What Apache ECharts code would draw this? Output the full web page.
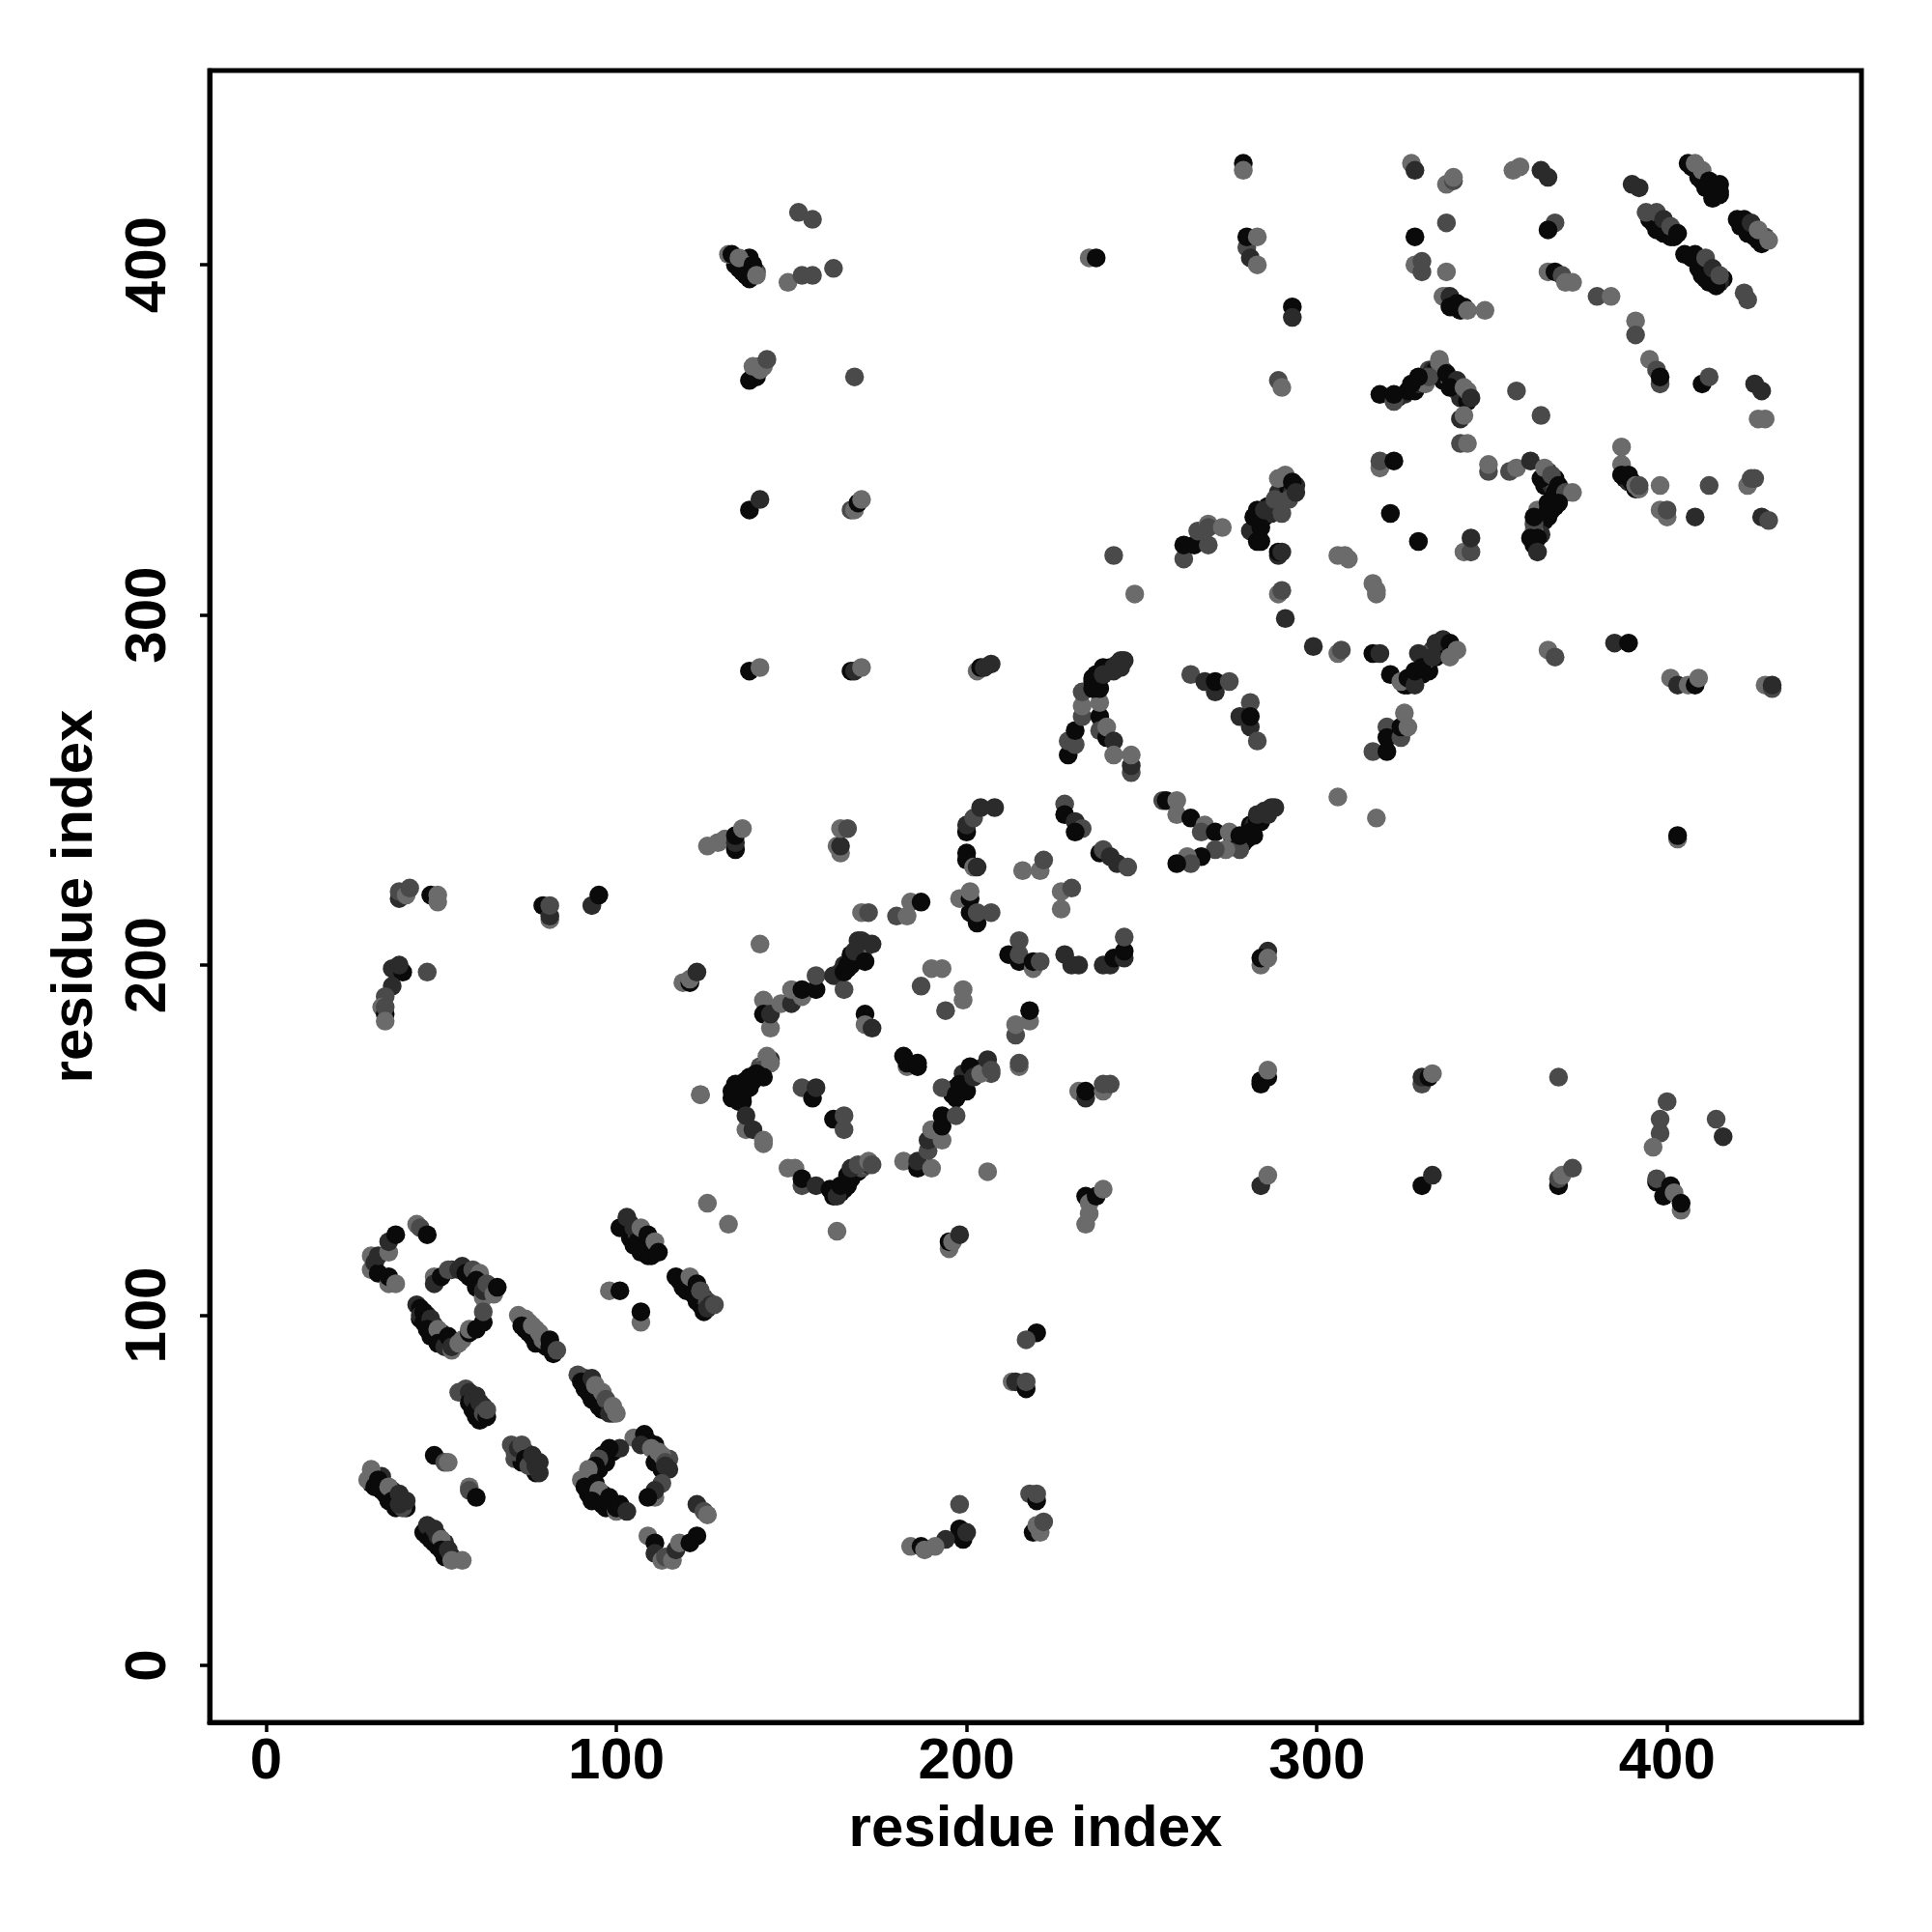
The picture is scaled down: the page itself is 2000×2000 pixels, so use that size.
<!DOCTYPE html>
<html><head><meta charset="utf-8">
<script src="https://cdn.jsdelivr.net/npm/echarts@6/dist/echarts.min.js"></script>
<style>html,body{margin:0;background:#fff}#c{width:2000px;height:2000px}</style></head>
<body><div id="c"></div>
<script>
const tickLabels=[0,100,200,300,400];
const axisTitle='residue index';
// grey tone per contact: index used as third value of every [i, j, tone]
const tones=['#0a0a0a','#2b2b2b','#4a4a4a','#6b6b6b'];
const denseLow=[[44,99,0],[46,100,1],[46,97,0],[48,97,1],[48,94,0],[50,93,0],[50,95,1],[51,92,0],[53,113,1],[58,111,0],[60,108,0],[61,110,1],[62,105,3],[64,107,1],[74,96,0],[76,94,0],[78,93,0],[80,91,0],[75,98,3],[77,96,3],[91,79,0],[93,76,0],[95,77,1],[96,73,0],[91,82,1],[97,74,1],[99,72,1],[104,122,0],[105,120,0],[107,118,0],[109,117,0],[104,126,1],[106,123,2],[108,122,0],[110,119,0],[118,110,0],[120,107,0],[121,108,2],[122,108,0],[123,104,0],[124,103,0],[125,105,1],[126,103,0],[59,73,0],[60,71,0],[61,70,0],[60,77,1],[62,74,1],[71,59,2],[73,58,0],[75,59,1],[76,58,0],[77,55,0],[74,61,2],[92,54,0],[92,49,0],[94,48,0],[96,49,0],[97,47,3],[99,46,0],[99,61,0],[97,58,0],[95,56,0],[109,64,1],[111,63,0],[112,58,0],[113,56,0],[115,59,2],[46,37,0],[48,35,0],[49,34,0],[51,31,0],[52,32,0],[51,35,1],[53,31,1],[30,52,0],[33,50,0],[35,47,0],[37,45,0],[33,54,1],[36,50,1],[40,45,0]];
const denseHigh=[[395,413,0],[396,412,0],[398,411,0],[399,409,0],[400,410,1],[402,408,0],[405,403,0],[407,402,0],[409,401,0],[410,397,0],[412,395,0],[414,396,0],[416,396,0],[415,395,1],[407,428,0],[409,425,0],[410,424,0],[411,422,0],[413,421,0],[415,420,0],[415,423,0],[415,421,0],[421,411,0],[423,409,0],[425,408,0],[427,406,0],[423,412,0],[428,408,2],[284,327,0],[285,328,0],[286,331,0],[287,329,1],[288,331,0],[289,335,1],[291,333,0],[292,336,0],[293,335,1],[294,337,1],[325,280,0],[326,280,0],[327,282,0],[329,284,0],[330,283,0],[331,286,0],[332,284,0],[333,290,1],[334,288,0],[335,291,1],[336,291,0],[337,290,0],[331,287,3],[332,289,2]];
const denseMid=[[236,282,0],[237,283,0],[238,282,0],[239,285,0],[240,284,0],[241,285,0],[242,285,1],[243,286,1],[244,287,1],[237,280,0],[276,236,0],[277,236,0],[279,235,0],[280,236,0],[281,240,0],[282,240,1],[283,241,0],[284,241,0],[285,243,0],[286,243,1],[288,245,1],[163,197,0],[164,198,1],[165,200,1],[166,199,0],[167,200,0],[167,202,2],[168,203,0],[169,205,0],[169,202,0],[170,204,1],[171,205,2],[172,206,1],[170,206,3],[134,163,0],[135,164,0],[136,165,0],[137,165,0],[137,167,0],[138,165,0],[139,167,0],[140,169,1],[141,171,2],[142,171,3],[143,172,3],[136,161,0],[133,162,0],[134,166,0],[162,134,0],[163,136,0],[164,135,0],[165,136,0],[166,137,0],[166,140,0],[167,139,0],[168,141,1],[169,141,0],[170,142,2],[171,143,3],[172,143,1],[196,163,0],[197,165,0],[198,164,0],[199,167,0],[200,167,0],[201,168,0],[202,170,1],[203,169,3],[205,171,1],[206,170,1],[207,169,2],[199,169,1],[197,162,0]];
const denseRing=[[363,324,0],[364,326,0],[365,327,0],[366,328,0],[367,330,0],[368,331,0],[369,333,1],[363,330,3],[366,332,0],[365,337,0],[366,338,0],[367,337,1],[368,336,2],[369,335,3],[364,323,1],[362,324,3],[362,320,0],[323,362,0],[325,363,1],[326,364,0],[327,365,0],[328,364,0],[329,366,1],[330,367,0],[331,366,3],[332,370,2],[333,370,1],[334,370,0],[336,367,0],[336,370,3],[338,367,3],[339,365,0],[340,364,3],[341,362,1],[343,361,0],[343,364,3],[335,372,3],[338,389,0],[339,388,1],[341,387,0],[342,388,0],[336,391,3],[134,400,0],[135,399,0],[137,397,0],[138,396,0],[138,402,0],[137,400,3],[140,398,2],[139,368,0],[140,369,2],[141,371,2],[142,371,3],[388,339,0],[389,338,1],[390,338,0],[391,336,0],[392,336,3],[366,341,1],[368,339,0],[368,335,0]];
const groupA=[[30,113,3],[30,117,3],[31,115,1],[32,112,0],[32,117,1],[35,118,3],[35,121,1],[37,123,0],[35,109,3],[35,111,0],[37,109,3],[43,126,3],[44,125,2],[46,123,0]];
const groupB=[[48,111,3],[48,109,1],[50,111,0],[52,113,2],[55,113,1],[56,114,1],[57,112,0],[59,113,2],[61,112,3],[60,110,0],[62,107,1],[63,109,2],[65,106,3],[66,108,0],[43,103,1],[44,102,0],[44,100,1],[45,101,0],[45,98,0],[47,99,1],[46,96,0],[47,94,0],[49,96,3],[49,92,0],[51,91,1],[52,94,0],[53,90,3],[53,91,1],[55,92,3],[56,93,3],[58,95,0],[58,96,3],[60,96,0],[62,98,0],[62,101,2]];
const groupC=[[72,100,3],[74,99,3],[73,97,0],[75,95,0],[76,97,3],[77,92,0],[78,95,3],[79,93,3],[81,91,0],[81,93,0],[82,89,0],[83,90,2]];
const groupD=[[89,83,2],[90,81,0],[92,78,0],[93,82,1],[94,80,3],[95,74,0],[96,78,3],[97,76,2],[98,72,1],[99,74,3],[100,72,3]];
const groupE=[[101,125,0],[103,128,1],[105,125,1],[106,121,0],[107,125,3],[108,119,0],[109,123,0],[110,117,0],[111,121,3],[112,118,0]];
const groupF=[[117,111,0],[119,108,0],[121,111,3],[122,106,0],[123,109,0],[124,107,2],[125,101,0],[126,104,2],[127,103,1],[126,102,1],[128,103,2]];
const groupG=[[55,78,2],[57,79,2],[58,78,1],[58,75,0],[59,76,1],[60,73,0],[61,75,1],[62,72,2],[63,71,0],[63,73,2]];
const groupH=[[70,63,2],[71,61,2],[72,62,1],[73,63,2],[74,59,0],[75,57,2],[76,60,1],[77,57,1],[78,55,1],[78,58,1]];
const groupI=[[105,65,3],[108,66,0],[107,63,1],[110,62,3],[111,58,0],[112,61,3],[113,60,3],[114,58,2],[115,56,1],[114,57,1],[113,52,2],[111,48,3],[111,50,1],[109,48,0],[101,62,1],[98,62,0],[96,60,0],[95,59,2],[94,57,0],[92,56,3],[90,53,3],[91,51,0],[93,50,0],[94,52,0],[95,50,3],[93,47,0],[96,46,0],[98,48,0],[97,45,0],[100,44,3],[100,45,0],[101,46,0],[103,44,1]];
const groupJ=[[109,37,3],[111,35,0],[111,32,1],[113,30,3],[114,31,2],[116,30,3],[117,33,1],[118,35,3],[121,35,0],[123,37,0],[123,46,1],[125,44,2],[126,43,3]];
const groupK=[[30,56,3],[29,53,3],[31,51,0],[32,53,0],[34,49,0],[35,51,3],[36,47,0],[38,49,1],[39,45,2],[38,46,1],[40,47,1]];
const groupL=[[45,38,0],[46,40,1],[47,36,0],[48,39,1],[49,37,1],[50,36,3],[50,33,0],[52,33,1],[53,30,3],[56,30,3]];
const groupSmall=[[48,60,0],[51,58,2],[52,58,3],[58,51,3],[58,50,2],[60,48,0],[126,132,3],[132,126,3],[98,107,3],[101,107,0],[107,98,3],[107,101,0],[163,124,3]];
const groupLeft=[[38,219,1],[38,221,2],[40,220,3],[41,222,2],[47,220,0],[49,218,3],[49,220,3],[79,217,0],[81,213,3],[81,214,1],[81,217,2],[93,217,1],[95,220,0],[36,199,1],[39,198,0],[38,200,1],[46,198,2],[36,194,1],[34,191,2],[33,188,3],[34,186,0],[34,188,2],[34,184,3]];
const groupM=[[119,195,3],[121,195,0],[121,196,3],[123,198,1],[124,163,3],[141,206,3],[126,234,3],[129,235,3],[131,236,3],[134,233,0],[134,235,1],[134,237,0],[136,239,3],[164,232,3],[163,234,3],[164,234,1],[164,239,3],[166,239,2],[142,190,3],[142,186,0],[144,182,3],[144,186,1],[147,189,3],[150,189,1],[150,193,3],[153,191,3],[153,193,0],[157,193,0],[157,197,2],[162,197,1],[165,193,2],[165,198,0],[166,200,0],[167,203,0],[168,204,1],[171,201,0],[169,207,1],[170,207,1],[173,206,1]];
const groupN=[[171,186,0],[171,183,3],[173,182,1],[182,174,0],[183,171,3],[183,172,0],[186,171,0],[186,172,0],[190,199,3],[193,199,3],[187,194,2],[199,193,3],[199,190,3],[194,187,2],[214,180,2],[214,183,3],[218,184,3],[218,187,0],[215,171,3],[215,172,2],[170,215,3],[172,215,2],[180,214,2],[184,218,3],[183,214,3],[187,218,0],[201,215,0],[203,212,0],[198,219,3],[201,219,0],[201,221,3],[203,215,2],[207,215,2]];
const groupO=[[212,203,0],[215,201,0],[215,207,2],[215,203,2],[219,199,3],[219,201,0],[221,201,2],[228,203,1],[230,200,1],[232,200,1],[239,200,1],[241,200,1],[242,202,0],[245,202,1],[245,204,0],[245,208,2],[232,164,3],[234,162,1],[234,164,0],[239,164,3],[239,166,2],[241,166,2]];
const groupP=[[144,173,1],[143,174,3],[141,170,2],[144,172,3],[142,168,0],[140,169,0],[138,166,0],[138,168,0],[135,166,0],[133,164,0],[136,163,0],[135,161,0],[137,153,3],[137,157,1],[139,153,1],[142,149,3],[142,150,3],[124,163,3],[153,165,2],[156,162,0],[157,165,1],[162,156,0],[165,153,2],[165,157,2],[149,142,3],[151,142,3],[153,137,2],[153,139,0],[157,137,1],[161,136,0],[163,134,1],[164,137,0],[166,139,0],[167,142,1],[169,143,2],[172,144,3],[173,143,2]];
const groupQ=[[182,144,3],[186,142,0],[186,144,1],[190,142,3],[189,147,2],[189,150,1],[193,150,3],[190,153,3],[193,154,0],[193,157,0],[197,157,2],[193,165,2],[197,163,0],[198,166,0],[200,164,0],[201,171,0],[202,168,1],[204,169,3],[206,173,1],[207,170,2],[206,141,3],[234,126,3],[235,129,3],[234,134,0],[235,132,3],[237,134,0],[239,136,3],[195,119,3],[195,121,0],[196,121,3],[198,123,1]];
const groupR=[[220,95,0],[217,93,2],[213,81,3],[214,81,1],[217,79,0],[217,81,2],[198,46,2],[198,39,0],[199,36,0],[200,38,1],[194,36,1],[184,34,3],[187,34,0],[188,33,3],[191,34,3],[218,49,2],[220,47,0],[220,49,2],[219,38,0],[221,38,3],[220,40,3],[222,41,2]];
const groupS=[[200,238,0],[200,240,1],[202,242,2],[204,245,1],[208,245,1],[200,232,0],[200,230,0],[202,228,3],[203,228,1],[216,227,3],[221,227,3],[222,230,2],[227,221,3],[227,216,3],[230,222,2],[228,246,2],[228,243,0],[231,241,1],[233,239,2],[231,238,0],[238,232,0],[239,233,2],[241,231,1],[243,229,1],[246,228,2]];
const groupT=[[229,260,0],[229,264,2],[231,263,2],[231,267,0],[233,271,2],[233,274,3],[233,278,2],[236,281,0],[238,271,0],[238,275,3],[238,267,2],[240,265,0],[240,268,3],[242,264,1],[242,260,3],[247,255,2],[247,257,1],[247,260,3],[236,279,0],[238,279,0],[239,283,1],[242,284,1],[244,285,1],[245,287,1],[242,317,2],[248,306,3]];
const groupU=[[264,283,2],[268,281,1],[271,278,1],[271,281,0],[275,281,2],[281,275,2],[278,271,1],[281,268,1],[281,271,0],[283,264,2],[256,247,2],[257,247,0],[260,247,3],[260,243,3],[264,242,0],[268,240,3],[267,238,2],[271,238,0],[275,238,3],[278,233,2],[274,233,3],[271,233,2],[267,231,0],[263,231,3],[264,229,2],[260,229,0],[278,237,0],[281,238,0],[282,237,0],[283,243,1],[285,244,1],[287,245,1]];
const groupV=[[262,316,2],[262,320,0],[265,320,0],[269,320,2],[266,324,2],[269,326,3],[269,325,2],[273,325,3],[281,324,1],[283,321,0],[289,317,1],[289,318,0],[289,306,3],[290,307,2],[291,299,1],[299,291,1],[306,289,3],[307,290,2],[316,289,0],[318,289,1],[306,317,3],[308,317,3],[309,316,3],[316,309,3],[317,306,3],[317,307,3]];
const groupW=[[321,283,0],[324,281,3],[326,282,0],[328,280,1],[328,284,0],[329,289,1],[330,285,0],[333,288,1],[334,292,1],[336,293,1],[338,292,0],[338,288,3],[340,290,3],[320,268,2],[320,265,0],[316,261,2],[320,261,0],[324,265,2],[324,268,0],[325,272,3],[326,268,3],[306,248,3],[317,242,3]];
const groupX=[[327,429,3],[328,427,1],[337,423,3],[339,424,2],[339,425,3],[356,427,3],[358,428,3],[364,427,1],[366,425,1],[390,423,1],[392,422,1],[406,429,0],[408,429,3],[410,427,3],[412,424,0],[413,419,0],[414,422,0],[394,415,2],[397,415,2],[397,410,0],[399,413,1],[401,408,0],[401,411,2],[403,409,0],[420,413,0],[422,413,0],[424,412,1],[426,407,0],[426,410,3],[429,407,3],[408,403,0],[409,399,0],[411,402,2],[411,396,0],[413,399,1],[414,394,0],[415,397,2],[422,392,2],[423,390,2]];
const groupY=[[337,412,2],[328,408,0],[328,400,3],[330,401,2],[330,398,2],[337,398,3],[368,412,2],[366,410,0],[366,398,3],[368,398,0],[370,397,2],[371,395,3],[373,395,3],[380,391,2],[384,391,3],[391,384,3],[391,380,2],[395,373,3],[397,370,2],[398,366,2],[398,368,0],[410,366,0],[412,368,2],[425,366,1],[427,364,1],[426,356,3],[428,356,3]];
const groupZ=[[337,391,3],[338,391,1],[338,388,0],[340,389,0],[343,387,3],[348,387,3],[335,373,3],[332,368,2],[329,368,0],[327,366,0],[318,363,0],[322,361,2],[322,363,0],[337,369,0],[340,367,1],[338,365,0],[342,365,3],[344,362,1],[341,356,1],[342,357,3],[341,349,2],[343,349,3],[349,341,2],[349,343,3],[357,364,2],[364,357,2]];
const groupRing=[[318,342,3],[318,344,2],[322,344,0],[355,341,2],[357,342,3],[361,344,1],[364,339,0],[365,342,3],[367,340,2],[369,337,0],[371,335,2],[373,335,3],[369,332,0],[366,330,0],[362,326,2],[362,328,0],[361,322,0],[363,322,0],[363,318,1],[387,348,3],[387,343,3],[387,340,0],[389,340,0],[391,337,3],[392,337,2],[398,337,3],[412,337,2],[423,337,3],[424,339,2],[425,339,2],[398,330,3],[400,328,3],[400,330,2],[408,328,1],[427,328,1],[429,327,2],[321,329,0],[329,321,0],[342,318,3],[344,318,2],[344,322,1]];
const groupTop=[[152,415,2],[156,413,2],[132,403,3],[133,403,0],[136,398,0],[135,402,3],[139,400,0],[140,397,3],[149,395,3],[153,397,2],[156,397,2],[162,399,2],[235,402,3],[237,402,0],[279,429,0],[279,427,3],[280,405,2],[280,408,0],[281,402,1],[283,400,3],[283,408,3],[293,388,0],[293,385,1],[138,367,0],[140,368,0],[139,371,3],[141,370,3],[143,373,2],[168,368,2],[289,367,2],[290,365,3],[138,330,0],[141,333,1],[167,330,2],[168,330,3],[169,332,0],[170,333,3],[138,284,0],[141,285,3],[167,284,0],[168,284,1],[170,285,3],[203,284,3],[204,285,0],[205,285,1],[207,286,1]];
const groupUp=[[282,328,0],[283,330,0],[284,325,0],[284,321,0],[285,330,1],[288,333,2],[290,329,2],[289,339,3],[291,340,3],[290,318,1],[293,338,0],[292,333,2],[294,335,1]];
const groupRight=[[366,290,3],[368,288,2],[385,292,1],[389,292,0],[401,282,3],[403,280,1],[406,280,3],[408,280,0],[409,282,3],[428,280,3],[430,279,2],[430,280,1],[403,236,3],[403,237,0],[286,204,1],[284,200,3],[284,202,0],[286,202,3],[284,166,0],[284,167,0],[286,168,0],[286,170,3],[330,166,2],[330,168,1],[332,168,0],[333,169,3],[369,168,2],[400,161,2],[398,156,2],[398,152,2],[396,148,3],[414,156,2],[416,151,1],[284,137,1],[286,140,3],[330,137,0],[333,140,1],[369,137,0],[369,139,2],[370,140,3],[373,142,2],[397,138,0],[397,139,2],[399,134,0],[401,137,0],[402,135,3],[404,130,3],[404,132,0]];
const contactGroups=[denseLow,denseHigh,denseMid,denseRing,groupA,groupB,groupC,groupD,groupE,groupF,groupG,groupH,groupI,groupJ,groupK,groupL,groupSmall,groupLeft,groupM,groupN,groupO,groupP,groupQ,groupR,groupS,groupT,groupU,groupV,groupW,groupX,groupY,groupZ,groupRing,groupTop,groupUp,groupRight];
const font='"Liberation Sans", Arial, sans-serif';
function axis(extra){return Object.assign({type:'value',name:axisTitle,nameLocation:'middle',
  nameTextStyle:{fontFamily:font,fontWeight:'bold',fontSize:60,color:'#000'},
  axisLine:{show:true,onZero:false,lineStyle:{color:'#000',width:5}},
  axisTick:{show:true,length:10,lineStyle:{color:'#000',width:3.5},customValues:tickLabels},
  splitLine:{show:false}},extra);}
const chart=echarts.init(document.getElementById('c'),null,{renderer:'canvas'});
chart.setOption({animation:false,backgroundColor:'#fff',
  grid:{left:217,right:73,top:73,bottom:217,show:true,borderColor:'#000',borderWidth:5,backgroundColor:'transparent'},
  xAxis:axis({min:-16.13,max:455.5,nameGap:81,
    axisLabel:{fontFamily:font,fontWeight:'bold',fontSize:60,color:'#000',margin:11,customValues:tickLabels,formatter:v=>String(v)}}),
  yAxis:axis({min:-16.27,max:455.5,nameGap:109,
    axisLabel:{fontFamily:font,fontWeight:'bold',fontSize:60,color:'#000',rotate:90,margin:33,customValues:tickLabels,formatter:v=>String(v)}}),
  series:[{type:'scatter',symbol:'circle',symbolSize:19.5,
    data:contactGroups.flat(),
    encode:{x:0,y:1},
    itemStyle:{opacity:1,color:p=>tones[p.value[2]]}}]
});
</script></body></html>
